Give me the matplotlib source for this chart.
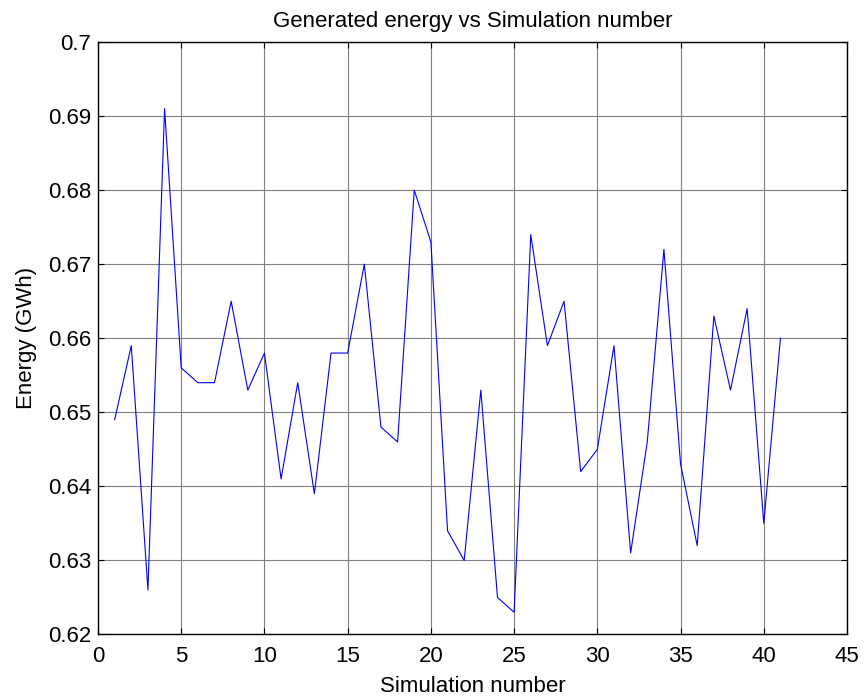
import matplotlib
matplotlib.use("Agg")
import matplotlib.pyplot as plt

# Simulation results
sim_number = list(range(1, 42))
energy_gwh = [0.649, 0.659, 0.626, 0.691, 0.656, 0.654, 0.654, 0.665, 0.653, 0.658,
              0.641, 0.654, 0.639, 0.658, 0.658, 0.670, 0.648, 0.646, 0.680, 0.673,
              0.634, 0.630, 0.653, 0.625, 0.623, 0.674, 0.659, 0.665, 0.642, 0.645,
              0.659, 0.631, 0.646, 0.672, 0.643, 0.632, 0.663, 0.653, 0.664, 0.635,
              0.660]
x_ticks = list(range(0, 46, 5))
y_ticks = [0.62, 0.63, 0.64, 0.65, 0.66, 0.67, 0.68, 0.69, 0.7]
y_tick_labels = ['0.62', '0.63', '0.64', '0.65', '0.66', '0.67', '0.68', '0.69', '0.7']

plt.rcParams['font.family'] = ['Liberation Sans', 'DejaVu Sans']

fig = plt.figure(figsize=(8.65, 6.99), dpi=100)
ax = fig.add_axes([0.1133, 0.0923, 0.8659, 0.8476])
ax.plot(sim_number, energy_gwh, color='blue', linewidth=0.8)

ax.set_xlim(0, 45)
ax.set_ylim(0.62, 0.70)
ax.set_xticks(x_ticks)
ax.set_yticks(y_ticks)
ax.set_yticklabels(y_tick_labels)
ax.grid(True, color='#808080', linewidth=0.8)
ax.tick_params(direction='in', top=True, right=True, labelsize=16, length=4)
ax.tick_params(axis='x', pad=8.5)
ax.tick_params(axis='y', pad=5)
for s in ax.spines.values():
    s.set_linewidth(1.0)

ax.set_title('Generated energy vs Simulation number', fontsize=16, pad=11)
ax.set_xlabel('Simulation number', fontsize=16, labelpad=6)
ax.set_ylabel('Energy (GWh)', fontsize=16, labelpad=8)

fig.savefig('out.png', dpi=100)
